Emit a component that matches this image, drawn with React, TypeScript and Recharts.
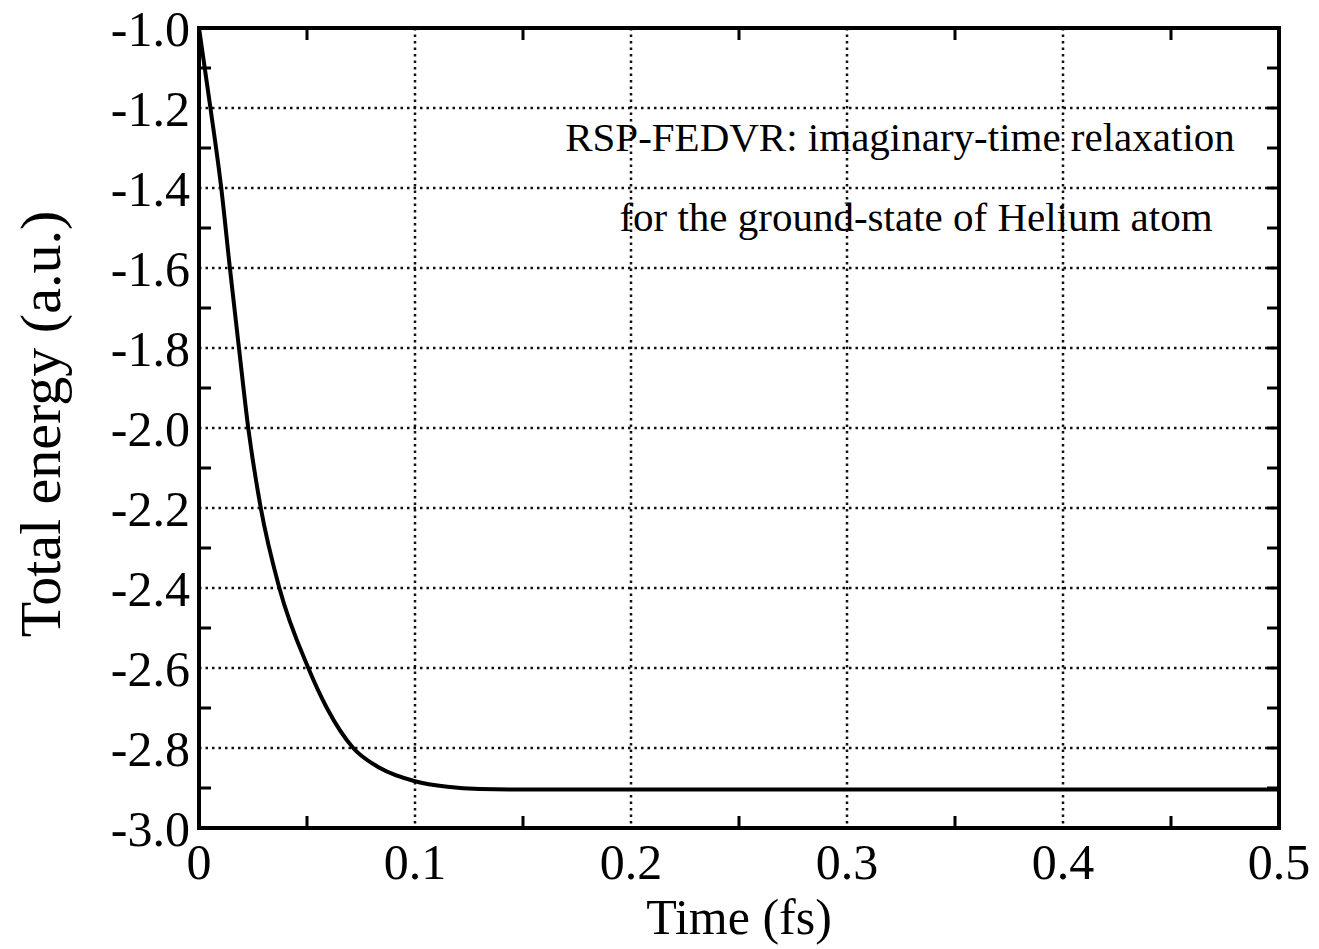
import {
  LineChart,
  Line,
  XAxis,
  YAxis,
  CartesianGrid,
  Customized,
} from "recharts";

// imaginary-time relaxation, He ground state
const timeFs = [
  0, 0.0053, 0.0103, 0.0143, 0.0185, 0.0228, 0.0286, 0.0372, 0.0506,
  0.0592, 0.0714, 0.0838, 0.1, 0.115, 0.13, 0.153, 0.2, 0.3, 0.4, 0.5,
];
const energyAu = [
  -1.0, -1.2, -1.4, -1.6, -1.8, -2.0, -2.2, -2.4, -2.6,
  -2.7, -2.8, -2.85, -2.883, -2.897, -2.9025, -2.904, -2.904, -2.904, -2.904, -2.904,
];

const xMajorTicks = [0, 0.1, 0.2, 0.3, 0.4, 0.5];
const xMinorTicks = [0.05, 0.15, 0.25, 0.35, 0.45];
const yMajorTicks = [-3.0, -2.8, -2.6, -2.4, -2.2, -2.0, -1.8, -1.6, -1.4, -1.2, -1.0];
const yMinorTicks = [-2.9, -2.7, -2.5, -2.3, -2.1, -1.9, -1.7, -1.5, -1.3, -1.1];

const xTitle = "Time (fs)";
const yTitle = "Total energy (a.u.)";
const noteLines = [
  "RSP-FEDVR: imaginary-time relaxation",
  "for the ground-state of Helium atom",
];

const FONT = "'Liberation Serif', 'Times New Roman', serif";
const frame = { stroke: "#000", strokeWidth: 4, strokeLinecap: "square" as const };
const tickMark = { stroke: "#000", strokeWidth: 3 };
const tickFont = { fontSize: 50, fontFamily: FONT, fill: "#000" };
const noLabel = () => <g />;

const fmtX = (v: number) => (v === 0 ? "0" : v.toFixed(1));
const fmtY = (v: number) => v.toFixed(1);

function Texts() {
  return (
    <g fontFamily={FONT} fill="#000">
      <text x={900} y={151} fontSize={41} textAnchor="middle">
        {noteLines[0]}
      </text>
      <text x={916} y={231} fontSize={41} textAnchor="middle">
        {noteLines[1]}
      </text>
      <text x={739} y={934} fontSize={50} textAnchor="middle">
        {xTitle}
      </text>
      <text
        x={0}
        y={0}
        fontSize={58}
        textAnchor="middle"
        transform="translate(60 424) rotate(-90)"
      >
        {yTitle}
      </text>
    </g>
  );
}

export default function App() {
  const data = timeFs.map((t, i) => ({ t, e: energyAu[i] }));

  return (
    <div style={{ position: "absolute", left: 0, top: 0, background: "#fff" }}>
      <LineChart
        width={1319}
        height={949}
        data={data}
        margin={{ top: 28, right: 40, bottom: 0, left: 0 }}
      >
        <CartesianGrid stroke="#111" strokeWidth={2.5} strokeDasharray="2.5 4" />
        <XAxis
          dataKey="t"
          type="number"
          domain={[0, 0.5]}
          allowDataOverflow
          ticks={xMajorTicks}
          interval={0}
          tickFormatter={fmtX}
          height={121}
          tickLine={false}
          tickSize={6}
          tickMargin={9}
          axisLine={frame}
          tick={tickFont}
        />
        <XAxis
          xAxisId="bottomMinor"
          dataKey="t"
          type="number"
          domain={[0, 0.5]}
          allowDataOverflow
          ticks={xMinorTicks}
          interval={0}
          mirror
          tickSize={12}
          tickLine={tickMark}
          axisLine={false}
          tick={noLabel}
        />
        <XAxis
          xAxisId="top"
          dataKey="t"
          orientation="top"
          type="number"
          domain={[0, 0.5]}
          allowDataOverflow
          ticks={xMinorTicks}
          interval={0}
          mirror
          tickSize={12}
          tickLine={tickMark}
          axisLine={frame}
          tick={noLabel}
        />
        <YAxis
          dataKey="e"
          type="number"
          domain={[-3, -1]}
          allowDataOverflow
          ticks={yMajorTicks}
          interval={0}
          tickFormatter={fmtY}
          width={199}
          tickLine={false}
          tickSize={6}
          tickMargin={3}
          axisLine={frame}
          tick={tickFont}
        />
        <YAxis
          yAxisId="leftMinor"
          dataKey="e"
          type="number"
          domain={[-3, -1]}
          allowDataOverflow
          ticks={yMinorTicks}
          interval={0}
          mirror
          tickSize={12}
          tickLine={tickMark}
          axisLine={false}
          tick={noLabel}
        />
        <YAxis
          yAxisId="right"
          dataKey="e"
          orientation="right"
          type="number"
          domain={[-3, -1]}
          allowDataOverflow
          ticks={[...yMinorTicks, ...yMajorTicks]}
          interval={0}
          mirror
          tickSize={12}
          tickLine={tickMark}
          axisLine={frame}
          tick={noLabel}
        />
        <Line
          type="monotone"
          dataKey="e"
          stroke="#000"
          strokeWidth={4}
          dot={false}
          isAnimationActive={false}
        />
        <Customized component={<Texts />} />
      </LineChart>
    </div>
  );
}
